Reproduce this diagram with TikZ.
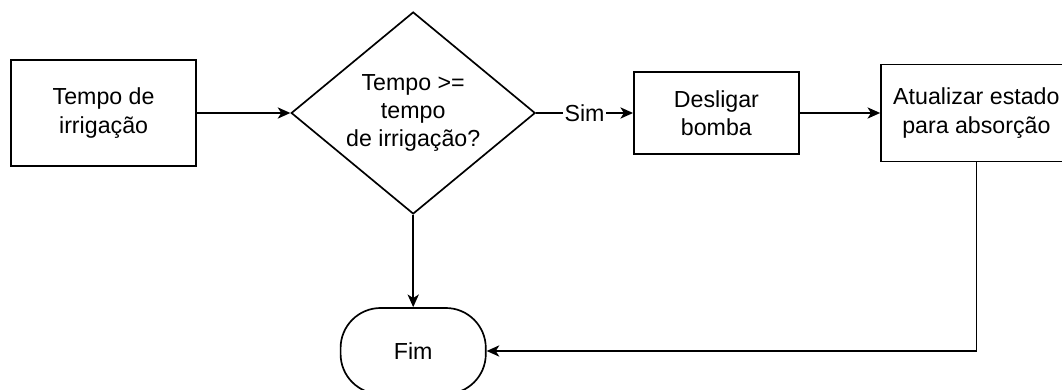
\documentclass[tikz,border=0pt]{standalone}
\usepackage{fontspec}
\setmainfont{Liberation Sans}
\usetikzlibrary{arrows,arrows.meta,shapes.geometric}

\begin{document}
\begin{tikzpicture}[node distance=7.74cm, >={Stealth[length=9pt,width=8pt,inset=2.5pt]}, line width=1.2pt,
    every node/.style={font=\fontsize{16.5}{20}\selectfont, align=center},
    box/.style={draw, minimum width=4.625cm, minimum height=2.65cm},
    cond/.style={draw, diamond, aspect=1.2, inner sep=0pt, minimum width=6.1cm, minimum height=5.05cm},
    term/.style={draw, rounded corners=1cm, minimum width=3.63cm, minimum height=2.15cm}]
      \useasboundingbox (0,0) rectangle (26.55,9.725);

      \node[box] (T) at (2.59,6.9) {Tempo de\\irrigação};
      \node[cond, right of=T] (Q) {Tempo >=\\tempo\\de irrigação?};
      \node[box, right of=Q, node distance=7.58cm, minimum width=4.125cm, minimum height=2.05cm] (D) {Desligar\\bomba};
      \node[box, right of=D, node distance=6.5cm, minimum width=4.77cm, minimum height=2.42cm] (A) {Atualizar estado\\para absorção};
      \node[term, below of=Q, node distance=5.95cm] (F) {Fim};

      \draw[->] (T) to (Q);
      \draw[->] (Q) to node[fill=white, inner sep=1pt] {Sim} (D);
      \draw[->] (D) to (A);
      \draw[->] (Q) to (F);
      \draw[->] (A) |- (F);
\end{tikzpicture}
\end{document}
